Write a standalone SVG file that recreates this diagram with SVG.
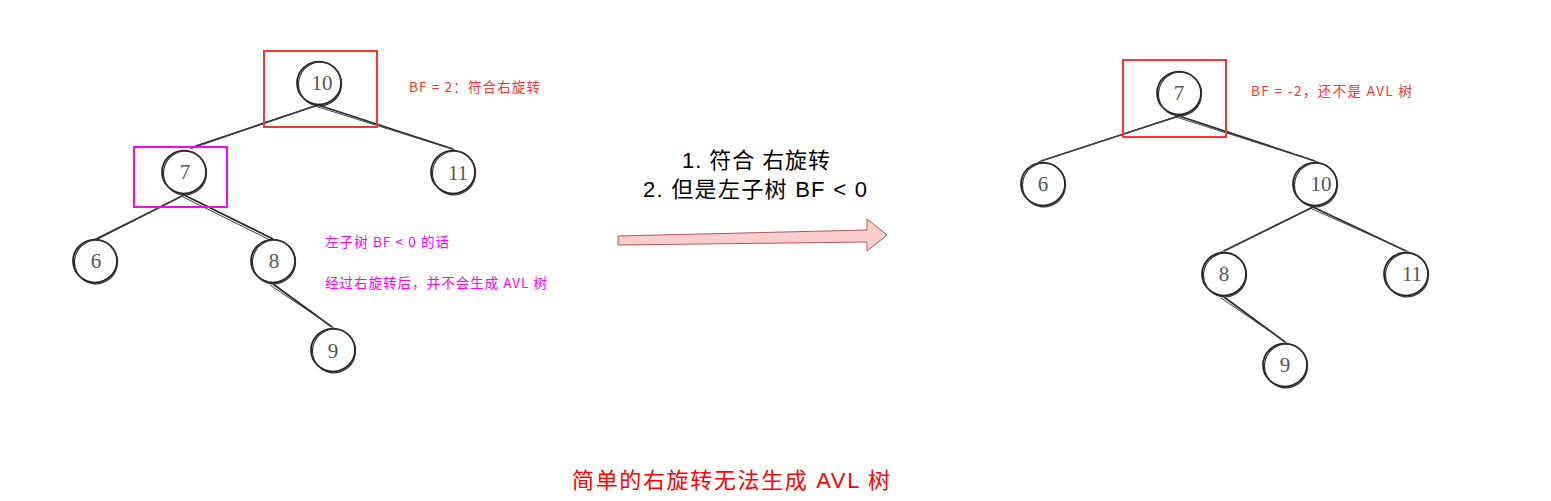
<svg xmlns="http://www.w3.org/2000/svg" width="1551" height="501" viewBox="0 0 1551 501">
<style>
.bg{fill:#fff}
.n{fill:none;stroke:#222;stroke-width:1.7}
.n2{fill:none;stroke:#333;stroke-width:1.2}
.e{stroke:#2a2a2a;stroke-width:1.8;fill:none}
.e2{stroke:#444;stroke-width:1;fill:none}
.num{font-family:"Liberation Serif","DejaVu Serif",serif;font-size:21px;fill:#555;text-anchor:middle}
.red{font-family:"Noto Sans CJK SC",sans-serif;font-size:13.5px;fill:#ff3333}
.mag{font-family:"Noto Sans CJK SC",sans-serif;font-size:13.5px;fill:#ff00ff}
.mid{font-family:"Liberation Sans","Noto Sans CJK SC",sans-serif;font-size:22px;fill:#000}
.title{font-family:"Liberation Sans","Noto Sans CJK SC",sans-serif;font-size:22px;fill:#ff0000}
</style>
<defs>
<g id="c">
<ellipse class="n" cx="0" cy="0" rx="22" ry="21.5"/>
<ellipse class="n2" cx="1.2" cy="0.8" rx="21.5" ry="21.8" transform="rotate(12)"/>
</g>
</defs>
<rect class="bg" x="0" y="0" width="1551" height="501"/>
<g id="connectors">
<path class="e" d="M318 105 L193 147"/><path class="e2" d="M320 104 L190 149"/>
<path class="e" d="M318 105 L453 149"/><path class="e2" d="M315 106 L455 150"/>
<path class="e" d="M184 195 L97 239"/><path class="e2" d="M186 194 L93 240"/>
<path class="e" d="M184 195 L273 239"/><path class="e2" d="M181 196 L270 240"/>
<path class="e" d="M273 284 L332 327"/><path class="e2" d="M270 285 L334 328"/>
<path class="e" d="M1179 116 L1041 161"/><path class="e2" d="M1181 115 L1038 162"/>
<path class="e" d="M1179 116 L1315 161"/><path class="e2" d="M1176 117 L1318 162"/>
<path class="e" d="M1313 207 L1224 251"/><path class="e2" d="M1316 206 L1221 252"/>
<path class="e" d="M1313 207 L1406 251"/><path class="e2" d="M1310 208 L1409 252"/>
<path class="e" d="M1224 297 L1285 342"/><path class="e2" d="M1221 298 L1287 343"/>
<path d="M618 236 L867 230 L867 219 L887 235 L867 251 L867 242 L618 245 Z" fill="#f8cecc" stroke="#b85450" stroke-width="1"/>
</g>
<g id="left-10"><use href="#c" x="319" y="83"/><text class="num" x="322" y="90">10</text></g>
<g id="left-7"><use href="#c" x="184" y="172"/><text class="num" x="185" y="179">7</text></g>
<g id="left-11"><use href="#c" x="453" y="172"/><text class="num" x="458" y="180">11</text></g>
<g id="left-6"><use href="#c" x="95" y="261"/><text class="num" x="96" y="268">6</text></g>
<g id="left-8"><use href="#c" x="273" y="261"/><text class="num" x="274" y="268">8</text></g>
<g id="left-9"><use href="#c" x="333" y="350"/><text class="num" x="333" y="358">9</text></g>
<g id="right-7"><use href="#c" x="1179" y="93"/><text class="num" x="1179" y="100">7</text></g>
<g id="right-6"><use href="#c" x="1043" y="184"/><text class="num" x="1043" y="191">6</text></g>
<g id="right-10"><use href="#c" x="1315" y="184"/><text class="num" x="1321" y="191">10</text></g>
<g id="right-8"><use href="#c" x="1224" y="274"/><text class="num" x="1224" y="281">8</text></g>
<g id="right-11"><use href="#c" x="1406" y="274"/><text class="num" x="1412" y="281">11</text></g>
<g id="right-9"><use href="#c" x="1285" y="365"/><text class="num" x="1285" y="372">9</text></g>
<g id="boxes">
<rect x="264" y="51" width="113" height="76" fill="none" stroke="#ff3333" stroke-width="2"/>
<rect x="134" y="147" width="93" height="60" fill="none" stroke="#ff00ff" stroke-width="2"/>
<rect x="1123" y="60" width="103" height="77" fill="none" stroke="#ff3333" stroke-width="2"/>
</g>
<g id="labels">
<text class="red" x="409" y="92" textLength="131" lengthAdjust="spacing">BF = 2：符合右旋转</text>
<text class="mag" x="325" y="247" textLength="124" lengthAdjust="spacing">左子树 BF &lt; 0 的话</text>
<text class="mag" x="325" y="288" textLength="222" lengthAdjust="spacing">经过右旋转后，并不会生成 AVL 树</text>
<text class="red" x="1251" y="96" textLength="161" lengthAdjust="spacing">BF = -2，还不是 AVL 树</text>
<text class="mid" x="682" y="168" textLength="148" lengthAdjust="spacing">1. 符合 右旋转</text>
<text class="mid" x="643" y="197" textLength="224" lengthAdjust="spacing">2. 但是左子树 BF &lt; 0</text>
<text class="title" x="572" y="488" textLength="318" lengthAdjust="spacing">简单的右旋转无法生成 AVL 树</text>
</g>
</svg>
